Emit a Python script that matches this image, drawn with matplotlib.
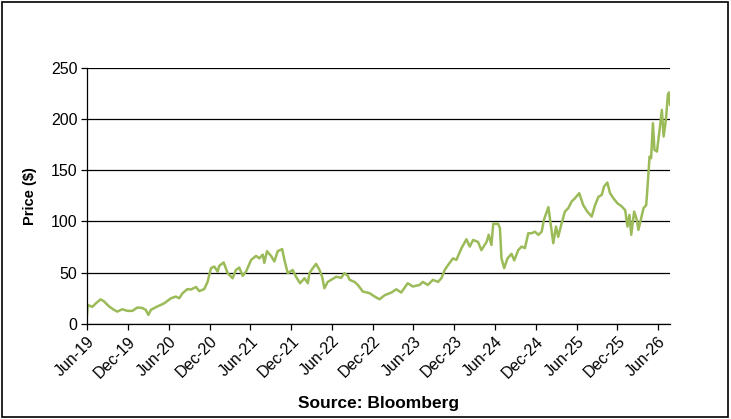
import matplotlib
matplotlib.use("Agg")
import matplotlib.pyplot as plt
import matplotlib.dates as mdates
from matplotlib.patches import Rectangle
import pandas as pd

plt.rcParams['font.family'] = ['Liberation Sans', 'DejaVu Sans']

# price history
dates = [
    "2019-06-01", "2019-06-04", "2019-06-25", "2019-07-10", "2019-08-01", "2019-08-16",
    "2019-09-08", "2019-09-30", "2019-10-15", "2019-11-06", "2019-11-29", "2019-12-21",
    "2020-01-13", "2020-02-04", "2020-02-19", "2020-03-02", "2020-03-13", "2020-04-11",
    "2020-05-11", "2020-06-11", "2020-07-03", "2020-07-18", "2020-08-02", "2020-08-24",
    "2020-09-08", "2020-10-01", "2020-10-16", "2020-11-07", "2020-11-22", "2020-12-07",
    "2020-12-22", "2021-01-06", "2021-01-13", "2021-02-02", "2021-02-20", "2021-03-14",
    "2021-03-29", "2021-04-13", "2021-04-28", "2021-05-13", "2021-06-05", "2021-06-27",
    "2021-07-12", "2021-07-27", "2021-08-03", "2021-08-15", "2021-09-02", "2021-09-17",
    "2021-10-02", "2021-10-22", "2021-11-01", "2021-11-16", "2021-12-08", "2021-12-23",
    "2022-01-10", "2022-01-30", "2022-02-14", "2022-02-21", "2022-03-08", "2022-03-23",
    "2022-04-07", "2022-04-19", "2022-04-29", "2022-05-14", "2022-05-29", "2022-06-21",
    "2022-07-13", "2022-07-28", "2022-08-12", "2022-08-20", "2022-09-11", "2022-09-26",
    "2022-10-18", "2022-11-17", "2022-12-10", "2023-01-01", "2023-01-24", "2023-02-23",
    "2023-03-17", "2023-04-08", "2023-05-07", "2023-05-30", "2023-06-29", "2023-07-14",
    "2023-08-05", "2023-08-28", "2023-09-20", "2023-10-05", "2023-10-20", "2023-11-04",
    "2023-11-26", "2023-12-11", "2024-01-03", "2024-01-25", "2024-02-09", "2024-02-24",
    "2024-03-17", "2024-04-01", "2024-04-24", "2024-05-04", "2024-05-16", "2024-05-24",
    "2024-06-15", "2024-06-23", "2024-06-30", "2024-07-12", "2024-07-27", "2024-08-14",
    "2024-08-26", "2024-09-13", "2024-09-28", "2024-10-13", "2024-10-28", "2024-11-12",
    "2024-11-27", "2024-12-12", "2024-12-27", "2025-01-06", "2025-01-26", "2025-02-05",
    "2025-02-17", "2025-03-01", "2025-03-11", "2025-03-26", "2025-04-10", "2025-04-25",
    "2025-05-10", "2025-05-25", "2025-06-13", "2025-07-01", "2025-07-19", "2025-08-08",
    "2025-08-23", "2025-09-07", "2025-09-22", "2025-10-02", "2025-10-17", "2025-10-29",
    "2025-11-13", "2025-12-01", "2025-12-21", "2026-01-05", "2026-01-15", "2026-01-24",
    "2026-02-01", "2026-02-14", "2026-02-26", "2026-03-05", "2026-03-17", "2026-03-28",
    "2026-04-09", "2026-04-15", "2026-04-24", "2026-05-01", "2026-05-09", "2026-05-16",
    "2026-05-27", "2026-06-08", "2026-06-18", "2026-06-26", "2026-07-06", "2026-07-15",
    "2026-07-20", "2026-07-25",
]
prices = [
    9, 18.5, 16.6, 19.9, 24, 22,
    17, 13.7, 12, 14.3, 12.7, 12.7,
    16, 15.5, 13.7, 8.8, 13.7, 17,
    20, 25, 26.7, 25, 30, 34,
    33.5, 36, 32, 34, 41, 54.4,
    56, 51, 56.6, 60, 49.5, 44.6,
    52.7, 55, 46.9, 51, 62.5, 66.4,
    64, 67.7, 59.6, 71, 66.4, 61,
    71, 73, 62.5, 49.5, 52.7, 46,
    39.7, 44.6, 39.7, 49.5, 54.4, 58.6,
    52.7, 46, 34.8, 41, 43, 46,
    45, 49.5, 47, 43, 41, 38,
    31.6, 30, 26.7, 24, 28, 30.6,
    33.8, 30.6, 39.7, 36.5, 38, 41,
    38, 43, 41, 44.6, 52.7, 57.6,
    64, 62.5, 74, 82.6, 75.5, 82,
    80, 72, 80, 87, 77, 97.7,
    97.7, 93.5, 64, 54.4, 64, 68.4,
    62, 72, 75.5, 74, 88.5, 88.5,
    90, 86.9, 90, 101.6, 114, 98,
    78.8, 95, 85, 98, 109.7, 113,
    119.5, 122.7, 127.6, 116, 109.7, 104.8,
    116, 124, 126, 134, 138, 127.6,
    122.7, 117.8, 114.6, 111, 95, 106.4,
    87, 109.7, 101.6, 91.8, 103, 113,
    116, 134, 163.4, 161.8, 196, 170,
    168.3, 189.5, 209, 183, 199, 223.6,
    226, 214,
]
y_ticks = [0, 50, 100, 150, 200, 250]

df = pd.DataFrame({'date': pd.to_datetime(dates), 'price': prices})

fig = plt.figure(figsize=(7.31, 4.19), dpi=100)
ax = fig.add_axes([0.119, 0.227, 0.798, 0.611])

ax.plot(df['date'], df['price'], color='#9BBB59', linewidth=1.8)

ax.set_ylim(0, 250)
ax.set_yticks(y_ticks)
ax.set_xlim(pd.Timestamp("2019-06-01"), pd.Timestamp("2026-07-26"))
ax.xaxis.set_major_locator(mdates.MonthLocator(bymonth=[6, 12], bymonthday=1))
ax.xaxis.set_major_formatter(mdates.DateFormatter('%b-%y'))
plt.setp(ax.get_xticklabels(), rotation=45, ha='right', rotation_mode='anchor')

ax.grid(axis='y', color='black', linewidth=0.9)
ax.set_axisbelow(True)
for side in ['top', 'right']:
    ax.spines[side].set_visible(False)
for side in ['left', 'bottom']:
    ax.spines[side].set_linewidth(0.9)
ax.tick_params(axis='both', direction='out', length=4, width=0.9, labelsize=11.5, pad=3)

ax.set_ylabel("Price ($)", fontsize=10.5, fontweight='bold', labelpad=10)
ax.set_xlabel("Source: Bloomberg", fontsize=12.5, fontweight='bold', labelpad=11)

fig.patches.append(Rectangle((0.003, 0.005), 0.993, 0.99, transform=fig.transFigure,
                             fill=False, edgecolor='black', linewidth=1.2))

fig.savefig("out.png", dpi=100)
